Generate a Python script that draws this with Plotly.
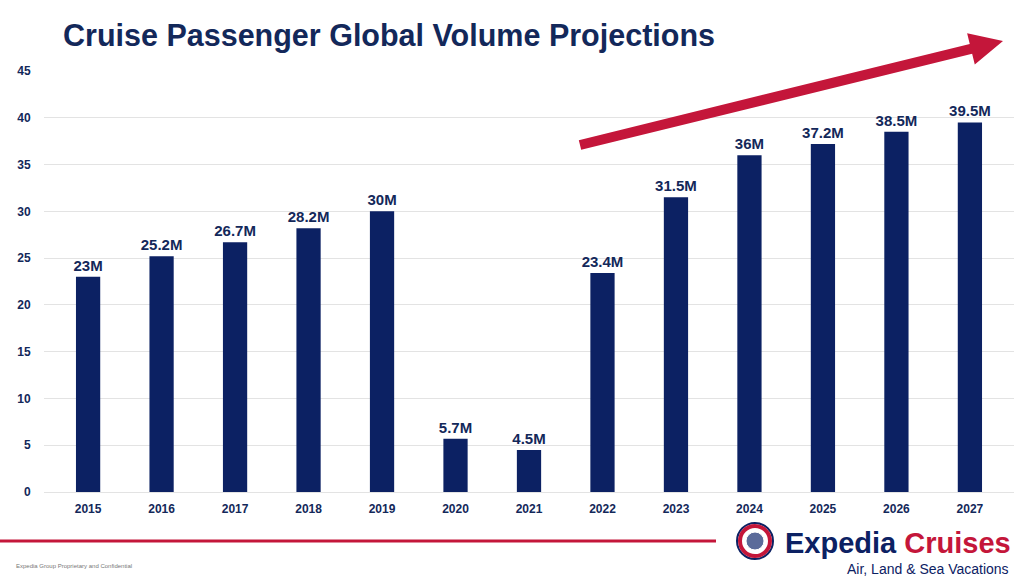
import plotly.graph_objects as go
import math

years = ["2015", "2016", "2017", "2018", "2019", "2020", "2021",
         "2022", "2023", "2024", "2025", "2026", "2027"]
passengers = [23, 25.2, 26.7, 28.2, 30, 5.7, 4.5, 23.4, 31.5, 36, 37.2, 38.5, 39.5]
labels = [f"{v:g}M" for v in passengers]
y_ticks = [0, 5, 10, 15, 20, 25, 30, 35, 40, 45]

W, H = 1030, 578
L, R, T, B = 44, 16, 71, 86
PW, PH = W - L - R, H - T - B

NAVY = "#0C2163"
TEXT = "#13285A"
RED = "#C4163A"


def px(x, y):
    return (x - L) / PW, (H - B - y) / PH


fig = go.Figure()
fig.add_trace(go.Bar(
    x=years, y=passengers, width=0.33,
    marker=dict(color=NAVY, line=dict(width=0)),
    text=labels, textposition="outside", cliponaxis=False, constraintext="none",
    textfont=dict(family="Liberation Sans", size=15, color=TEXT),
    texttemplate="<b>%{text}</b>",
    hoverinfo="skip",
))

shapes = []
# trend arrow
tail = (580, 145)
tip = (1003, 41)
dx, dy = tip[0] - tail[0], tip[1] - tail[1]
ln = math.hypot(dx, dy)
ux, uy = dx / ln, dy / ln
nx, ny = -uy, ux
hw, hl, hh = 5.0, 33, 16
bx, by = tip[0] - ux * hl, tip[1] - uy * hl
pts = [
    (tail[0] + nx * hw, tail[1] + ny * hw),
    (bx + nx * hw, by + ny * hw),
    (bx + nx * hh, by + ny * hh),
    tip,
    (bx - nx * hh, by - ny * hh),
    (bx - nx * hw, by - ny * hw),
    (tail[0] - nx * hw, tail[1] - ny * hw),
]
path = "M " + " L ".join(f"{px(*p)[0]:.5f},{px(*p)[1]:.5f}" for p in pts) + " Z"
shapes.append(dict(type="path", xref="paper", yref="paper", path=path,
                   fillcolor=RED, line=dict(width=0), layer="above"))

# footer red line
x0, y0 = px(0, 541)
x1, _ = px(716, 541)
shapes.append(dict(type="line", xref="paper", yref="paper", x0=x0, x1=x1, y0=y0, y1=y0,
                   line=dict(color=RED, width=3)))

# logo icon
cx, cy = 755, 541
for r, fill, lc, lw in [(18, "white", NAVY, 2), (15, "white", RED, 4), (9, "#5B6B9A", "white", 1)]:
    a0, b0 = px(cx - r, cy + r)
    a1, b1 = px(cx + r, cy - r)
    shapes.append(dict(type="circle", xref="paper", yref="paper", x0=a0, y0=b0, x1=a1, y1=b1,
                       fillcolor=fill, line=dict(color=lc, width=lw)))

annotations = []
tx, ty = px(61, 36)
annotations.append(dict(xref="paper", yref="paper", x=tx, y=ty, xanchor="left", yanchor="middle",
                        text="<b>Cruise Passenger Global Volume Projections</b>", showarrow=False,
                        font=dict(family="Liberation Sans", size=30.5, color=TEXT)))
ex, ey = px(783, 543)
annotations.append(dict(xref="paper", yref="paper", x=ex, y=ey, xanchor="left", yanchor="middle",
                        text=f"<span style='color:{NAVY}'>Expedia</span> <span style='color:{RED}'>Cruises</span>",
                        showarrow=False, font=dict(family="Liberation Sans", size=29, weight=600)))
sx, sy = px(1011, 569)
annotations.append(dict(xref="paper", yref="paper", x=sx, y=sy, xanchor="right", yanchor="middle",
                        text="Air, Land & Sea Vacations", showarrow=False,
                        font=dict(family="Liberation Sans", size=14, color=NAVY)))
fx, fy = px(14, 566)
annotations.append(dict(xref="paper", yref="paper", x=fx, y=fy, xanchor="left", yanchor="middle",
                        text="Expedia Group Proprietary and Confidential", showarrow=False,
                        font=dict(family="Liberation Sans", size=6, color="#777777")))

fig.update_layout(
    width=W, height=H,
    margin=dict(l=L, r=R, t=T, b=B, pad=0),
    paper_bgcolor="white", plot_bgcolor="white",
    showlegend=False,
    shapes=shapes, annotations=annotations,
    xaxis=dict(type="category", range=[-0.6, 12.6], showgrid=False, zeroline=False,
               showline=False, ticks="outside", ticklen=6, tickcolor="rgba(0,0,0,0)",
               tickfont=dict(family="Liberation Sans", size=12, color=TEXT),
               tickvals=years, ticktext=[f"<b>{y}</b>" for y in years]),
    yaxis=dict(range=[0, 45], tickvals=y_ticks, ticktext=[f"<b>{v}</b>" for v in y_ticks],
               showgrid=True, gridcolor="#E3E3E3", gridwidth=1, zeroline=True,
               zerolinecolor="#E3E3E3", zerolinewidth=1, showline=False,
               ticks="outside", ticklen=10, tickcolor="rgba(0,0,0,0)",
               tickfont=dict(family="Liberation Sans", size=12, color=TEXT)),
)

fig.write_html("out.html")
